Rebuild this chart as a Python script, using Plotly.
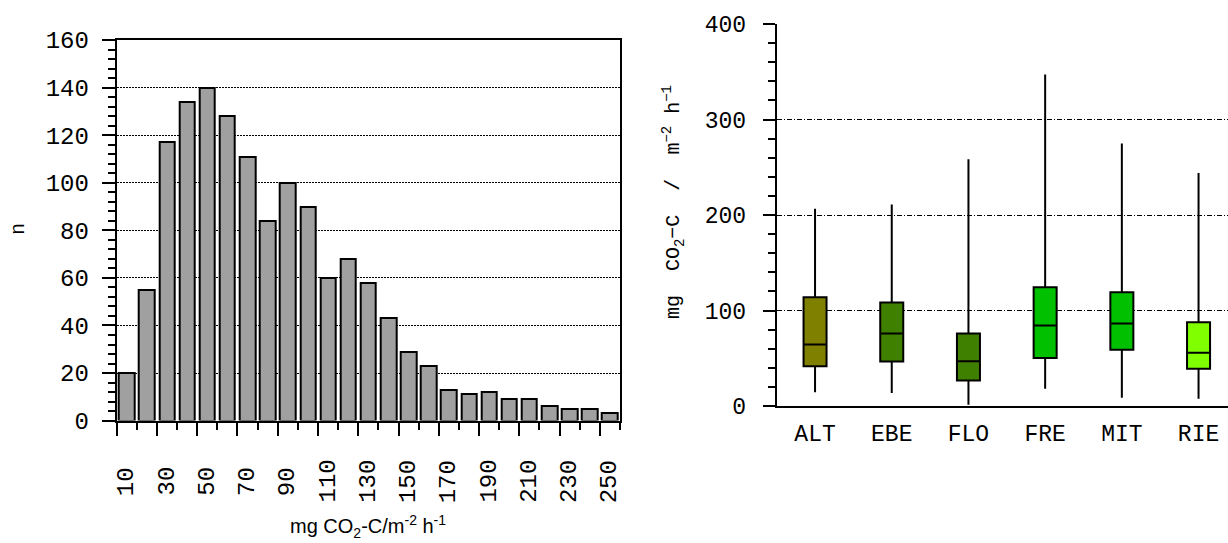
import plotly.graph_objects as go

# ---------------- data ----------------
bin_centers = [10, 20, 30, 40, 50, 60, 70, 80, 90, 100, 110, 120, 130,
               140, 150, 160, 170, 180, 190, 200, 210, 220, 230, 240, 250]
counts = [20, 55, 117, 134, 140, 128, 111, 84, 100, 90, 60, 68, 58,
          43, 29, 23, 13, 11, 12, 9, 9, 6, 5, 5, 3]
bin_labels = [10, 30, 50, 70, 90, 110, 130, 150, 170, 190, 210, 230, 250]

sites = ["ALT", "EBE", "FLO", "FRE", "MIT", "RIE"]
lower_whisker = [14.6, 13.6, 1.5, 18.2, 8.8, 7.7]
q1_vals = [41.8, 46.7, 26.9, 50.2, 58.9, 39.0]
medians = [64.5, 76.0, 47.0, 84.3, 86.4, 55.8]
q3_vals = [113.9, 108.4, 76.0, 124.3, 119.1, 87.8]
upper_whisker = [206.5, 211.0, 258.5, 347.0, 274.8, 243.9]
site_colors = ["#808000", "#408000", "#408000", "#00c000", "#00c000", "#80ff00"]

W, H = 1228, 543
MONO = "Liberation Mono"
SANS = "Liberation Sans"


def px_x(p):
    return p / W


def px_y(p):
    return (H - p) / H


fig = go.Figure()

# ---------------- histogram (left) ----------------
fig.add_trace(go.Bar(
    x=bin_centers, y=counts, width=7.7,
    marker=dict(color="#a0a0a0", line=dict(color="black", width=2)),
    xaxis="x", yaxis="y", showlegend=False, hoverinfo="skip"))

# ---------------- boxes (right) ----------------
for s, lo, a, m, b, hi, c in zip(sites, lower_whisker, q1_vals, medians,
                                 q3_vals, upper_whisker, site_colors):
    fig.add_trace(go.Box(
        x=[s], q1=[a], median=[m], q3=[b], lowerfence=[lo], upperfence=[hi],
        fillcolor=c, line=dict(color="black", width=2), width=0.30,
        whiskerwidth=0, boxpoints=False, xaxis="x2", yaxis="y2",
        showlegend=False, hoverinfo="skip"))

tickfont_l = dict(family=MONO, size=24, color="black")
tickfont_r = dict(family=MONO, size=23, color="black")

left_dom_x = [px_x(116.7), px_x(620)]
left_dom_y = [px_y(430), px_y(29.5)]
right_dom_x = [px_x(776.7), 1.0]
right_dom_y = [px_y(414.7), px_y(12.6)]

annotations = []
for v in bin_labels:
    annotations.append(dict(
        x=v, y=px_y(494), xref="x", yref="paper", text=str(v),
        textangle=-90, showarrow=False, font=tickfont_l,
        xanchor="center", yanchor="middle"))
annotations.append(dict(
    x=px_x(368), y=px_y(541), xref="paper",
    yref="paper",
    text="mg CO<sub>2</sub>-C/m<sup>-2</sup> h<sup>-1</sup>",
    showarrow=False, font=dict(family=SANS, size=20, color="black"),
    xanchor="center", yanchor="middle"))
annotations.append(dict(
    x=px_x(17), y=px_y(229), xref="paper", yref="paper", text="n",
    textangle=-90, showarrow=False,
    font=dict(family=SANS, size=20, color="black"),
    xanchor="center", yanchor="middle"))
annotations.append(dict(
    x=px_x(673), y=px_y(200), xref="paper", yref="paper",
    text="mg\u00a0 CO<sub>2</sub>\u2212C\u00a0 /\u00a0 m<sup>\u22122</sup>\u00a0h<sup>\u22121</sup>",
    textangle=-90, showarrow=False,
    font=dict(family=MONO, size=20, color="black"),
    xanchor="center", yanchor="middle"))

fig.update_layout(
    width=W, height=H, margin=dict(l=0, r=0, t=0, b=0),
    paper_bgcolor="white", plot_bgcolor="white",
    boxmode="overlay", bargap=0,
    annotations=annotations,
    xaxis=dict(
        domain=left_dom_x, anchor="y", range=[5, 255],
        tickmode="array", tickvals=list(range(5, 250, 20)),
        ticks="outside", ticklen=13, tickwidth=2, tickcolor="black",
        showticklabels=False, showgrid=False, zeroline=False,
        showline=True, linecolor="black", linewidth=2, mirror=True,
        minor=dict(tickmode="array", tickvals=list(range(15, 260, 20)),
                   ticks="outside", ticklen=7, tickwidth=2,
                   tickcolor="black", showgrid=False)),
    yaxis=dict(
        domain=left_dom_y, anchor="x", range=[0, 160],
        tickmode="linear", tick0=0, dtick=20,
        ticks="outside", ticklen=13, tickwidth=2, tickcolor="black",
        tickfont=tickfont_l, ticklabelstandoff=8,
        showgrid=True, gridcolor="black", gridwidth=1.2,
        griddash="2px,1px", zeroline=False,
        showline=True, linecolor="black", linewidth=2, mirror=True,
        minor=dict(dtick=4, ticks="outside", ticklen=7, tickwidth=2,
                   tickcolor="black", showgrid=False)),
    xaxis2=dict(
        domain=right_dom_x, anchor="y2", type="category",
        categoryorder="array", categoryarray=sites,
        range=[-0.5, -0.5 + (W - 776.7) / 76.7],
        ticks="", tickfont=tickfont_r, ticklabelstandoff=5,
        showgrid=False, zeroline=False,
        showline=True, linecolor="black", linewidth=2),
    yaxis2=dict(
        domain=right_dom_y, anchor="x2", range=[0, 400],
        tickmode="linear", tick0=0, dtick=100,
        ticks="outside", ticklen=12, tickwidth=2, tickcolor="black",
        tickfont=tickfont_r, ticklabelstandoff=12,
        showgrid=True, gridcolor="black", gridwidth=1,
        griddash="5px,2px,1px,2px", zeroline=False,
        showline=True, linecolor="black", linewidth=2,
        minor=dict(dtick=20, ticks="outside", ticklen=7, tickwidth=2,
                   tickcolor="black", showgrid=False)),
)

fig.write_html("out.html")
